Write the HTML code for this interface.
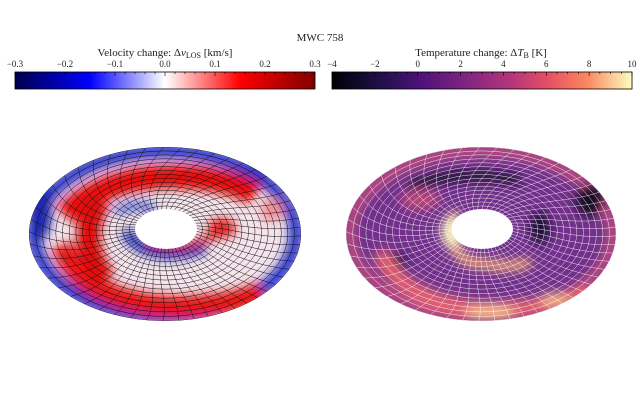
<!DOCTYPE html>
<html><head><meta charset="utf-8"><style>
html,body{margin:0;padding:0;background:#fff;width:640px;height:410px;overflow:hidden}
svg text{font-family:"Liberation Serif",serif;fill:#222}
</style></head><body>
<svg id="s" width="640" height="410" viewBox="0 0 640 410" xmlns="http://www.w3.org/2000/svg">
<defs>
<linearGradient id="seis" x1="0" x2="1">
<stop offset="0" stop-color="#00004c"/><stop offset="0.25" stop-color="#0000ff"/><stop offset="0.5" stop-color="#ffffff"/><stop offset="0.75" stop-color="#ff0000"/><stop offset="1" stop-color="#800000"/>
</linearGradient>
<linearGradient id="magma" x1="0" x2="1">
<stop offset="0" stop-color="#000004"/><stop offset="0.15" stop-color="#1c1044"/><stop offset="0.3" stop-color="#4f127b"/><stop offset="0.45" stop-color="#812581"/><stop offset="0.6" stop-color="#b5367a"/><stop offset="0.72" stop-color="#e55064"/><stop offset="0.85" stop-color="#fb8761"/><stop offset="1" stop-color="#fcfdbf"/>
</linearGradient>
<filter id="b6" x="-50%" y="-50%" width="200%" height="200%"><feGaussianBlur stdDeviation="5"/></filter>
<clipPath id="cL"><path clip-rule="evenodd" fill-rule="evenodd" d="M29,234 a136,87 0 1,0 272,0 a136,87 0 1,0 -272,0 Z M135,229 a31,20 0 1,0 62,0 a31,20 0 1,0 -62,0 Z"/></clipPath>
<clipPath id="cR"><path clip-rule="evenodd" fill-rule="evenodd" d="M346,234 a135,87 0 1,0 270,0 a135,87 0 1,0 -270,0 Z M451,229 a31,20 0 1,0 62,0 a31,20 0 1,0 -62,0 Z"/></clipPath>
</defs>
<text x="320" y="41" font-size="11" text-anchor="middle">MWC 758</text>
<text x="165" y="56" font-size="11" text-anchor="middle">Velocity change: Δ<tspan font-style="italic">v</tspan><tspan font-size="8" dy="2">LOS</tspan><tspan dy="-2"> [km/s]</tspan></text>
<text x="481" y="56" font-size="11" text-anchor="middle">Temperature change: Δ<tspan font-style="italic">T</tspan><tspan font-size="8" dy="2">B</tspan><tspan dy="-2"> [K]</tspan></text>
<rect x="15" y="72" width="300" height="17" fill="url(#seis)" stroke="#000" stroke-width="0.8"/>
<rect x="332" y="72" width="300" height="17" fill="url(#magma)" stroke="#000" stroke-width="0.8"/>
<g id="ticks"></g>
<g clip-path="url(#cL)">
<rect x="20" y="140" width="290" height="190" fill="#f4e4ec"/>
<g filter="url(#b6)">
<ellipse cx="165" cy="234" rx="131" ry="83" fill="none" stroke="#2a35cc" stroke-width="14"/>
<path d="M65,215 Q110,170 200,178 Q240,183 255,195" fill="none" stroke="#e81010" stroke-width="24"/>
<path d="M62,245 Q80,300 170,307 Q230,307 262,292" fill="none" stroke="#ea1515" stroke-width="22"/>
<path d="M100,200 Q75,240 105,280" fill="none" stroke="#e01010" stroke-width="24"/>
<path d="M125,232 Q150,265 205,248" fill="none" stroke="#2a3ad0" stroke-width="11"/>
<path d="M148,243 Q185,255 215,235" fill="none" stroke="#e01515" stroke-width="7"/>
<ellipse cx="222" cy="228" rx="14" ry="10" fill="#e82020"/>
<path d="M115,212 Q140,200 155,210" fill="none" stroke="#5060e0" stroke-width="8"/>
<ellipse cx="272" cy="210" rx="12" ry="12" fill="#f09098"/>
<ellipse cx="262" cy="165" rx="16" ry="8" fill="#3040cc"/>
<ellipse cx="40" cy="210" rx="12" ry="30" fill="#1a28b0"/>
</g>
<g id="gL" fill="none" stroke="#111" stroke-width="0.5"></g>
</g>
<g clip-path="url(#cR)">
<rect x="340" y="140" width="285" height="190" fill="#72308c"/>
<g filter="url(#b6)">
<ellipse cx="481" cy="234" rx="131" ry="83" fill="none" stroke="#c4507e" stroke-width="10"/>
<path d="M410,185 Q460,170 520,180" fill="none" stroke="#1e0c30" stroke-width="10"/>
<ellipse cx="590" cy="200" rx="14" ry="16" fill="#140820"/>
<ellipse cx="540" cy="228" rx="10" ry="16" fill="#1e0c34"/>
<ellipse cx="395" cy="262" rx="12" ry="8" fill="#2a1048"/>
<path d="M455,212 Q445,250 470,262 Q510,270 530,262" fill="none" stroke="#f6a870" stroke-width="9"/>
<ellipse cx="452" cy="232" rx="10" ry="16" fill="#fcf0b0"/>
<path d="M380,252 Q400,300 480,310 Q540,312 590,290" fill="none" stroke="#e46070" stroke-width="16"/>
<ellipse cx="490" cy="312" rx="25" ry="7" fill="#f6b888"/>
<ellipse cx="555" cy="300" rx="15" ry="7" fill="#f6b080"/>
<ellipse cx="420" cy="200" rx="20" ry="10" fill="#b84478"/>
</g>
<g id="gR" fill="none" stroke="#fff" stroke-width="0.5" opacity="0.85"></g>
</g>
</svg>
<script>
(function(){
var NS="http://www.w3.org/2000/svg";
function grid(id,cx,cy,rx,ry,hcx,hcy){
 var g=document.getElementById(id),d="";
 for(var i=0;i<=16;i++){var f=0.22+0.78*i/16;
  var x=hcx+(cx-hcx)*(f-0.22)/0.78, y=hcy+(cy-hcy)*(f-0.22)/0.78;
  d+="M"+(x-rx*f)+","+y+" a"+rx*f+","+ry*f+" 0 1,0 "+2*rx*f+",0 a"+rx*f+","+ry*f+" 0 1,0 "+(-2*rx*f)+",0 ";}
 for(var k=0;k<52;k++){var a0=k/52*2*Math.PI;var pts=[];
  for(var j=0;j<=12;j++){var f=0.22+0.78*j/12;var a=a0+0.18*Math.sin(3*f+a0)+0.25*(f-0.22);
   var x=hcx+(cx-hcx)*(f-0.22)/0.78+rx*f*Math.cos(a), y=hcy+(cy-hcy)*(f-0.22)/0.78+ry*f*Math.sin(a);
   pts.push(x.toFixed(1)+","+y.toFixed(1));}
  d+="M"+pts.join(" L");}
 var p=document.createElementNS(NS,"path");p.setAttribute("d",d);g.appendChild(p);
}
grid("gL",165,234,136,87,166,229);
grid("gR",481,234,135,87,482,229);
var t=document.getElementById("ticks");
function lab(x,s){var e=document.createElementNS(NS,"text");e.setAttribute("x",x);e.setAttribute("y",67);e.setAttribute("font-size","9");e.setAttribute("text-anchor","middle");e.textContent=s;t.appendChild(e);}
var L=["−0.3","−0.2","−0.1","0.0","0.1","0.2","0.3"];
for(var i=0;i<7;i++)lab(15+i*50,L[i]);
var R=["−4","−2","0","2","4","6","8","10"];
for(var i=0;i<8;i++)lab(332+i*300/7,R[i]);
var d="";
for(var i=0;i<=30;i++){var x=15+i*10;var h=i%5==0?4:2;d+="M"+x+",72 v"+h+" ";}
for(var i=0;i<=28;i++){var x=332+i*300/28;var h=i%4==0?4:2;d+="M"+x+",72 v"+h+" ";}
var p=document.createElementNS(NS,"path");p.setAttribute("d",d);p.setAttribute("stroke","#000");p.setAttribute("stroke-width","0.6");t.appendChild(p);
})();
</script>
</body></html>
